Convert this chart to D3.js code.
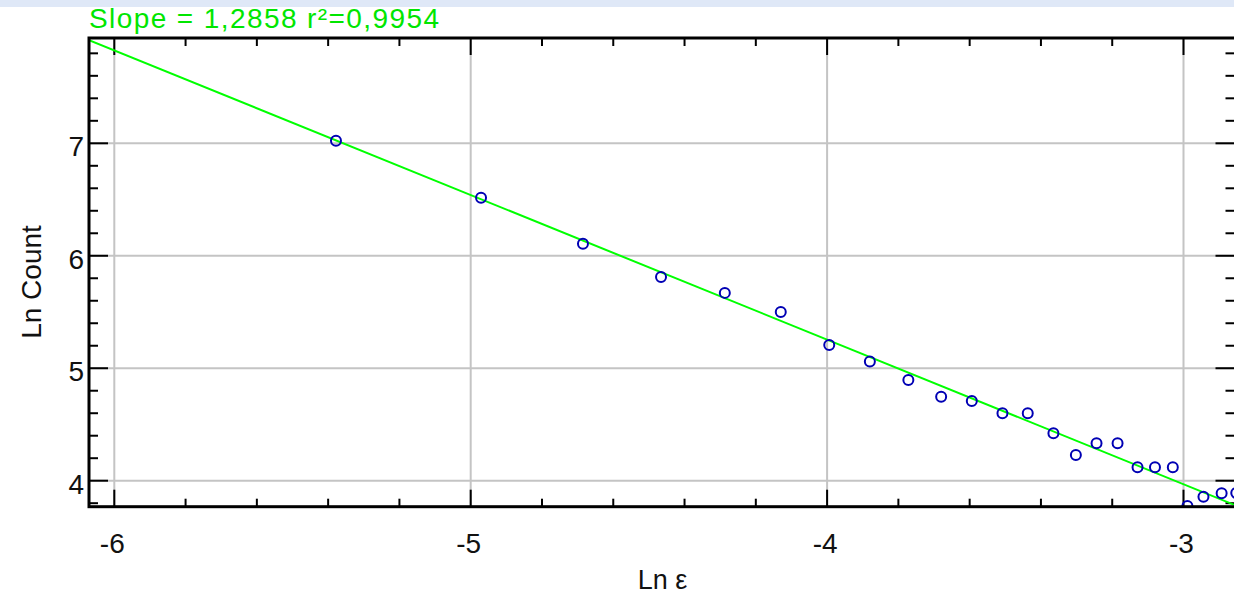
<!DOCTYPE html>
<html>
<head>
<meta charset="utf-8">
<script src="https://cdn.jsdelivr.net/npm/d3@7"></script>
<style>
  html, body { margin: 0; padding: 0; background: #fff; }
  svg { display: block; font-family: "Liberation Sans", Arial, sans-serif; }
</style>
</head>
<body>
<div id="chart"></div>
<script>
// data
const lnEps   = [-5.378, -4.971, -4.685, -4.466, -4.287, -4.130, -3.994, -3.880, -3.772, -3.680,
                 -3.594, -3.508, -3.437, -3.365, -3.302, -3.244, -3.185, -3.129, -3.080, -3.030,
                 -2.989, -2.944, -2.893, -2.852];
const lnCount = [7.022, 6.516, 6.106, 5.812, 5.670, 5.501, 5.207, 5.059, 4.896, 4.747,
                 4.709, 4.600, 4.600, 4.422, 4.229, 4.333, 4.333, 4.119, 4.119, 4.119,
                 3.775, 3.858, 3.888, 3.890];
const fitSlope = -1.2858;
const fitIntercept = 0.111;
const titleText = "Slope = 1,2858 r";
const titleR2 = "\u00b2=0,9954";
const xTicks = [-6, -5, -4, -3];
const xTickLabels = ["-6", "-5", "-4", "-3"];
const yTicks = [4, 5, 6, 7];
const yTickLabels = ["4", "5", "6", "7"];
const xMinor = d3.range(-6, -2.8, 0.2);
const yMinor = d3.range(3.8, 8.0, 0.2);

const W = 1234, H = 596;
const plot = {left: 89, top: 38, right: 1237.5, bottom: 506.7};

const x = d3.scaleLinear().domain([-6, -3]).range([114.3, 1183.5]);
const y = d3.scaleLinear().domain([4, 7]).range([480.7, 143.3]);
const xMin = x.invert(plot.left), xMax = x.invert(plot.right);

const svg = d3.select("#chart").append("svg")
    .attr("width", W)
    .attr("height", H);

// light band at the very top
svg.append("rect").attr("x", 0).attr("y", 0).attr("width", W).attr("height", 7).attr("fill", "#dfe8f7");

svg.append("defs").append("clipPath").attr("id", "plotclip")
    .append("rect")
    .attr("x", plot.left).attr("y", plot.top)
    .attr("width", plot.right - plot.left).attr("height", plot.bottom - plot.top);

// grid
const grid = svg.append("g").attr("stroke", "#c4c4c4").attr("stroke-width", 2);
grid.selectAll(".gx").data(xTicks).join("line")
    .attr("x1", d => x(d)).attr("x2", d => x(d))
    .attr("y1", plot.top).attr("y2", plot.bottom);
grid.selectAll(".gy").data(yTicks).join("line")
    .attr("y1", d => y(d)).attr("y2", d => y(d))
    .attr("x1", plot.left).attr("x2", plot.right);

// ticks: minor and major on all four sides, pointing inward
const ticks = svg.append("g").attr("stroke", "#000").attr("stroke-width", 2);
const xMinorOnly = xMinor.filter(v => !xTicks.some(t => Math.abs(t - v) < 1e-6) && x(v) > plot.left && x(v) < plot.right);
const yMinorOnly = yMinor.filter(v => !yTicks.some(t => Math.abs(t - v) < 1e-6) && y(v) < plot.bottom && y(v) > plot.top);

ticks.selectAll(".xmb").data(xMinorOnly).join("line")
    .attr("x1", d => x(d)).attr("x2", d => x(d))
    .attr("y1", plot.bottom).attr("y2", plot.bottom - 8);
ticks.selectAll(".xmt").data(xMinorOnly).join("line")
    .attr("x1", d => x(d)).attr("x2", d => x(d))
    .attr("y1", plot.top).attr("y2", plot.top + 8);
ticks.selectAll(".xMb").data(xTicks).join("line")
    .attr("x1", d => x(d)).attr("x2", d => x(d))
    .attr("y1", plot.bottom).attr("y2", plot.bottom - 17);
ticks.selectAll(".xMt").data(xTicks).join("line")
    .attr("x1", d => x(d)).attr("x2", d => x(d))
    .attr("y1", plot.top).attr("y2", plot.top + 17);

ticks.selectAll(".yml").data(yMinorOnly).join("line")
    .attr("y1", d => y(d)).attr("y2", d => y(d))
    .attr("x1", plot.left).attr("x2", plot.left + 9);
ticks.selectAll(".ymr").data(yMinorOnly).join("line")
    .attr("y1", d => y(d)).attr("y2", d => y(d))
    .attr("x1", plot.right).attr("x2", plot.right - 12);
ticks.selectAll(".yMl").data(yTicks).join("line")
    .attr("y1", d => y(d)).attr("y2", d => y(d))
    .attr("x1", plot.left).attr("x2", plot.left + 19);
ticks.selectAll(".yMr").data(yTicks).join("line")
    .attr("y1", d => y(d)).attr("y2", d => y(d))
    .attr("x1", plot.right).attr("x2", plot.right - 22);

// fit line
const inner = svg.append("g").attr("clip-path", "url(#plotclip)");
inner.append("line")
    .attr("x1", x(xMin)).attr("y1", y(fitIntercept + fitSlope * xMin))
    .attr("x2", x(xMax)).attr("y2", y(fitIntercept + fitSlope * xMax))
    .attr("stroke", "#00ff00")
    .attr("stroke-width", 2);

// points
inner.selectAll("circle").data(lnEps).join("circle")
    .attr("cx", d => x(d))
    .attr("cy", (d, i) => y(lnCount[i]))
    .attr("r", 5)
    .attr("fill", "none")
    .attr("stroke", "#0000b4")
    .attr("stroke-width", 2);

// frame
svg.append("rect")
    .attr("x", plot.left).attr("y", plot.top)
    .attr("width", plot.right - plot.left).attr("height", plot.bottom - plot.top)
    .attr("fill", "none").attr("stroke", "#000").attr("stroke-width", 3);

// tick labels
svg.append("g").selectAll("text").data(xTicks).join("text")
    .attr("x", d => x(d) - 2)
    .attr("y", 553)
    .attr("text-anchor", "middle")
    .attr("font-size", 28)
    .attr("fill", "#111")
    .text((d, i) => xTickLabels[i]);

svg.append("g").selectAll("text").data(yTicks).join("text")
    .attr("x", 84)
    .attr("y", d => y(d) + 13)
    .attr("text-anchor", "end")
    .attr("font-size", 28)
    .attr("fill", "#111")
    .text((d, i) => yTickLabels[i]);

// axis titles
svg.append("text")
    .attr("x", (plot.left + 1236) / 2)
    .attr("y", 589)
    .attr("text-anchor", "middle")
    .attr("font-size", 27)
    .attr("fill", "#111")
    .text("Ln \u03b5");

svg.append("text")
    .attr("transform", "translate(41," + 282 + ") rotate(-90)")
    .attr("text-anchor", "middle")
    .attr("font-size", 28)
    .attr("fill", "#111")
    .text("Ln Count");

// fit statistics above the plot
const title = svg.append("text")
    .attr("x", 89)
    .attr("y", 28)
    .attr("font-size", 28)
    .attr("fill", "#00e600")
    .attr("textLength", 350)
    .attr("lengthAdjust", "spacing");
title.append("tspan").text(titleText);
title.append("tspan").text(titleR2);
</script>
</body>
</html>
